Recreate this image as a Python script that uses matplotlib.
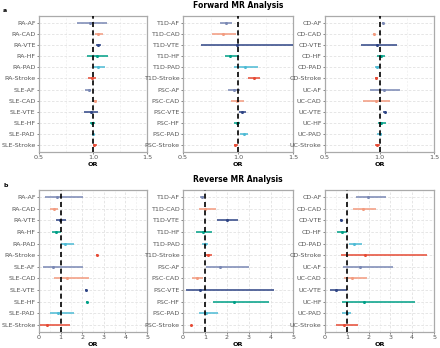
import matplotlib
matplotlib.use("Agg")
import matplotlib.pyplot as plt
import numpy as np

outcomes = ["AF", "CAD", "VTE", "HF", "PAD", "Stroke"]
colors = {"AF": "#7A88B4", "CAD": "#F39B7F", "VTE": "#2F4585",
          "HF": "#00A087", "PAD": "#4DBBD5", "Stroke": "#E64B35"}

# ---- forward MR (OR, lower, upper) in outcome order
fwd_groups = [["RA", "SLE"], ["T1D", "PSC"], ["CD", "UC"]]
fwd_or = {
    "RA":  [0.972, 1.05, 1.05, 1.035, 1.045, 0.99],
    "SLE": [0.96, 1.02, 0.98, 0.995, 1.0, 1.01],
    "T1D": [0.888, 0.864, 0.988, 0.93, 1.064, 1.145],
    "PSC": [0.964, 0.99, 1.033, 0.99, 1.055, 0.976],
    "CD":  [1.034, 0.95, 0.98, 1.01, 0.98, 0.972],
    "UC":  [1.043, 0.97, 1.049, 1.015, 1.0, 0.98],
}
fwd_lo = {
    "RA":  [0.85, 1.02, 1.03, 0.94, 1.0, 0.95],
    "SLE": [0.93, 1.0, 0.915, 0.975, 0.99, 1.0],
    "T1D": [0.833, 0.764, 0.667, 0.88, 0.96, 1.094],
    "PSC": [0.91, 0.94, 1.006, 0.96, 1.018, 0.96],
    "CD":  [1.02, 0.94, 0.83, 0.98, 0.963, 0.963],
    "UC":  [0.913, 0.845, 1.034, 0.985, 0.98, 0.963],
}
fwd_hi = {
    "RA":  [1.126, 1.095, 1.075, 1.14, 1.11, 1.03],
    "SLE": [0.985, 1.035, 1.05, 1.02, 1.01, 1.035],
    "T1D": [0.945, 0.985, 1.6, 1.005, 1.18, 1.197],
    "PSC": [1.02, 1.055, 1.07, 1.018, 1.09, 0.997],
    "CD":  [1.045, 0.963, 1.165, 1.05, 1.003, 0.985],
    "UC":  [1.188, 1.1, 1.064, 1.06, 1.02, 1.0],
}

# ---- reverse MR
rev_or = {
    "RA":  [0.83, 0.69, 0.95, 0.8, 1.22, 2.69],
    "SLE": [0.65, 1.31, 2.17, 2.2, 0.86, 0.35],
    "T1D": [0.85, 1.01, 1.98, 0.89, 1.0, 1.12],
    "PSC": [1.68, 0.62, 0.79, 2.32, 1.04, 0.38],
    "CD":  [1.99, 1.73, 0.72, 0.76, 1.35, 1.82],
    "UC":  [1.6, 1.26, 0.49, 1.79, 0.99, 0.87],
}
rev_lo = {
    "RA":  [0.29, 0.49, 0.77, 0.62, 1.0, 2.66],
    "SLE": [0.18, 0.69, 2.14, 2.17, 0.49, 0.05],
    "T1D": [0.76, 0.73, 1.56, 0.6, 0.85, 0.98],
    "PSC": [1.03, 0.4, 0.15, 1.37, 0.72, 0.35],
    "CD":  [1.41, 1.3, 0.69, 0.54, 1.12, 0.73],
    "UC":  [0.84, 0.87, 0.23, 0.79, 0.79, 0.5],
}
rev_hi = {
    "RA":  [2.03, 0.88, 1.26, 1.03, 1.63, 2.72],
    "SLE": [2.05, 2.31, 2.2, 2.23, 1.6, 1.42],
    "T1D": [0.94, 1.51, 2.51, 1.31, 1.15, 1.3],
    "PSC": [2.98, 0.89, 4.12, 3.9, 1.6, 0.41],
    "CD":  [2.8, 2.32, 0.75, 1.02, 1.68, 4.69],
    "UC":  [3.13, 1.91, 1.02, 4.13, 1.2, 1.53],
}

W, H = 440, 348
fig = plt.figure(figsize=(W / 100, H / 100), dpi=100)

xs_px = [(39, 147), (183, 293), (325, 434)]


def panel(ax, groups, orv, lov, hiv, xlim, ticks, minor, fmt):
    labels = [f"{g}-{o}" for g in groups for o in outcomes]
    n = len(labels)
    for gi, g in enumerate(groups):
        for oi, o in enumerate(outcomes):
            y = n - 1 - (gi * 6 + oi)
            c = colors[o]
            ax.plot([lov[g][oi], hiv[g][oi]], [y, y], color=c, lw=1.3,
                    alpha=0.85, solid_capstyle="butt", zorder=3)
            ax.plot(orv[g][oi], y, "o", ms=2.2, color=c, mec="none", zorder=4)
    ax.axvline(1, color="black", ls=(0, (3, 2)), lw=1.2, zorder=5)
    ax.set_xlim(*xlim)
    ax.set_ylim(-0.6, n - 0.4)
    ax.set_yticks(np.arange(n))
    ax.set_yticklabels(labels[::-1])
    ax.set_xticks(ticks)
    ax.set_xticks(minor, minor=True)
    ax.set_xticklabels([fmt.format(t) for t in ticks])
    ax.grid(True, which="major", color="#e2e2e2", lw=0.6, ls=(0, (3, 2)))
    ax.grid(True, which="minor", axis="x", color="#eeeeee", lw=0.5, ls=(0, (3, 2)))
    ax.tick_params(axis="both", labelsize=4.6, colors="#555555", length=1.5,
                   width=0.5, pad=1)
    ax.tick_params(which="minor", length=0)
    for s in ax.spines.values():
        s.set_color("#aaaaaa")
        s.set_linewidth(0.9)
    ax.set_xlabel("OR", fontsize=4.6, fontweight="bold", labelpad=0.8)


def add_axes(x0, x1, top, bottom):
    return fig.add_axes([x0 / W, 1 - bottom / H, (x1 - x0) / W, (bottom - top) / H])


for i, groups in enumerate(fwd_groups):
    ax = add_axes(*xs_px[i], 16, 152)
    panel(ax, groups, fwd_or, fwd_lo, fwd_hi, (0.5, 1.5), [0.5, 1.0, 1.5],
          [0.75, 1.25], "{:.1f}")

for i, groups in enumerate(fwd_groups):
    ax = add_axes(*xs_px[i], 190, 332)
    panel(ax, groups, rev_or, rev_lo, rev_hi, (0, 5), [0, 1, 2, 3, 4, 5],
          [0.5, 1.5, 2.5, 3.5, 4.5], "{:d}")

fig.text(238 / W, 1 - 5 / H, "Forward MR Analysis", ha="center", va="center",
         fontsize=5.5, fontweight="bold")
fig.text(238 / W, 1 - 180 / H, "Reverse MR Analysis", ha="center", va="center",
         fontsize=5.5, fontweight="bold")
fig.text(3 / W, 1 - 10 / H, "a", fontsize=4.5, fontweight="bold", va="center")
fig.text(3 / W, 1 - 185 / H, "b", fontsize=4.5, fontweight="bold", va="center")

fig.savefig("out.png", dpi=100, facecolor="white")
